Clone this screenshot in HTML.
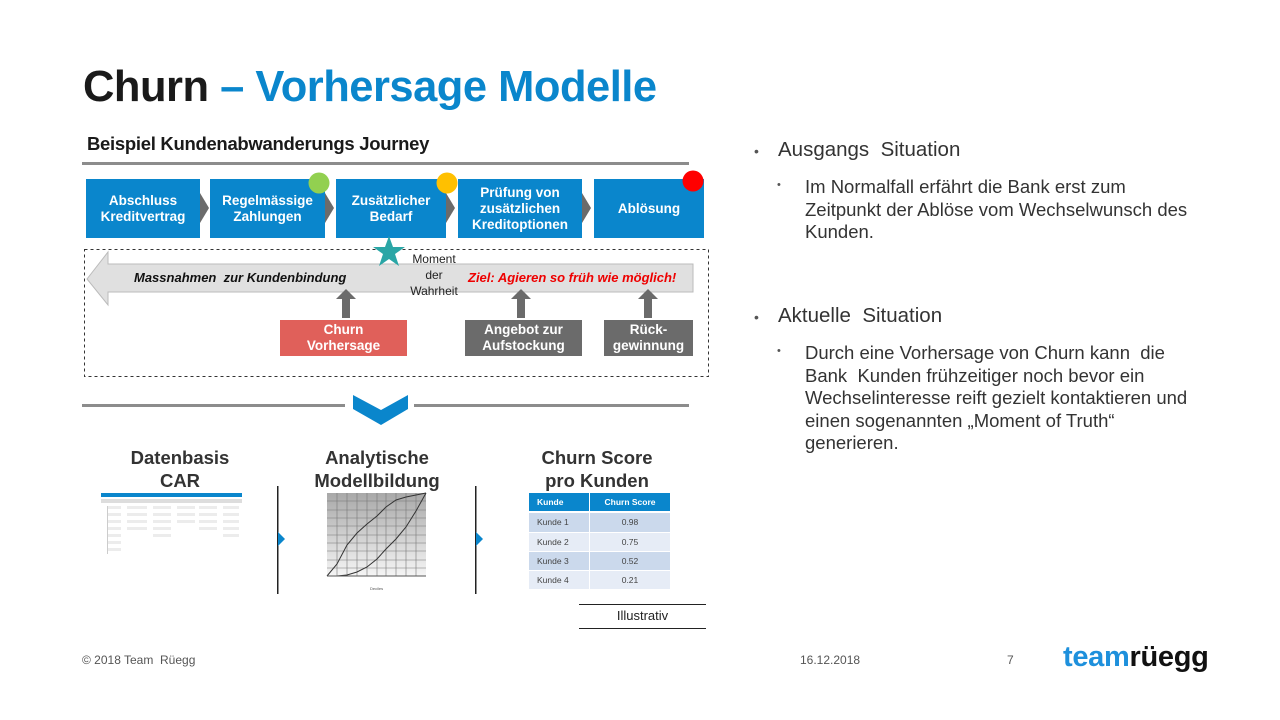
<!DOCTYPE html>
<html><head><meta charset="utf-8"><style>
*{margin:0;padding:0;box-sizing:border-box}
body{width:1280px;height:720px;background:#fff;position:relative;overflow:hidden;font-family:"Liberation Sans",sans-serif}
.a{position:absolute;white-space:nowrap}
.bx{position:absolute;background:#0a86cc;color:#fff;font-weight:bold;font-size:13.5px;line-height:16px;display:flex;align-items:center;justify-content:center;text-align:center}
.gb{position:absolute;color:#fff;font-weight:bold;font-size:13.5px;line-height:16px;display:flex;align-items:center;justify-content:center;text-align:center}
.rt{color:#333;font-size:18.5px;line-height:22.5px}
</style></head><body>
<div class="a" style="left:83px;top:63px;font-size:43.5px;font-weight:bold;color:#1a1a1a;letter-spacing:-0.5px">Churn <span style="color:#0a86cc">– Vorhersage Modelle</span></div>
<div class="a" style="left:87px;top:133px;font-size:18.5px;font-weight:bold;color:#1a1a1a;letter-spacing:-0.3px">Beispiel Kundenabwanderungs Journey</div>
<div class="a" style="left:82px;top:162px;width:607px;height:3px;background:#8c8c8c"></div>

<div class="bx" style="left:86px;top:179px;width:114px;height:59px">Abschluss<br>Kreditvertrag</div>
<div class="bx" style="left:210px;top:179px;width:115px;height:59px">Regelmässige<br>Zahlungen</div>
<div class="bx" style="left:336px;top:179px;width:110px;height:59px">Zusätzlicher<br>Bedarf</div>
<div class="bx" style="left:458px;top:179px;width:124px;height:59px">Prüfung von<br>zusätzlichen<br>Kreditoptionen</div>
<div class="bx" style="left:594px;top:179px;width:110px;height:59px">Ablösung</div>
<svg class="a" style="left:0;top:0" width="1280" height="720">
<g fill="#6b6b6b">
<polygon points="200,193 209,208 200,223"/>
<polygon points="325,193 334,208 325,223"/>
<polygon points="446,193 455,208 446,223"/>
<polygon points="582,193 591,208 582,223"/>
</g>
<circle cx="319" cy="183" r="10.5" fill="#92d050"/>
<circle cx="447" cy="183" r="10.5" fill="#ffc000"/>
<circle cx="693" cy="181" r="10.5" fill="#ff0000"/>
<rect x="84.5" y="249.5" width="624" height="127" fill="none" stroke="#333" stroke-dasharray="3,3"/>
<polygon points="87,279 108,252 108,264 693,264 693,292 108,292 108,305" fill="#e0e0e0" stroke="#bbb"/>
<polygon points="389,236 393,247 405,247 395,254 399,266 389,259 379,266 383,254 373,247 385,247" fill="#2aa6a6"/>
<g fill="#6b6b6b">
<polygon points="346,289 356,299 350,299 350,318 342,318 342,299 336,299"/>
<polygon points="521,289 531,299 525,299 525,318 517,318 517,299 511,299"/>
<polygon points="648,289 658,299 652,299 652,318 644,318 644,299 638,299"/>
</g>
<rect x="82" y="404" width="263" height="3" fill="#8c8c8c"/>
<rect x="414" y="404" width="275" height="3" fill="#8c8c8c"/>
<polygon points="353,395 381,410 408,395 408,409 381,425 353,409" fill="#0a86cc"/>
<rect x="277" y="486" width="1.5" height="108" fill="#222"/>
<rect x="475" y="486" width="1.5" height="108" fill="#222"/>
<polygon points="278,532 285,539 278,546" fill="#0a86cc"/>
<polygon points="476,532 483,539 476,546" fill="#0a86cc"/>
<defs><linearGradient id="g" x1="0" y1="0" x2="0" y2="1"><stop offset="0" stop-color="#a8a8a8"/><stop offset="1" stop-color="#f5f5f5"/></linearGradient></defs>
<rect x="327" y="493" width="99" height="83" fill="url(#g)"/>
<g stroke="#777" stroke-width="0.6">
<line x1="337" y1="493" x2="337" y2="576"/><line x1="347" y1="493" x2="347" y2="576"/><line x1="357" y1="493" x2="357" y2="576"/><line x1="367" y1="493" x2="367" y2="576"/><line x1="377" y1="493" x2="377" y2="576"/><line x1="386" y1="493" x2="386" y2="576"/><line x1="396" y1="493" x2="396" y2="576"/><line x1="406" y1="493" x2="406" y2="576"/><line x1="416" y1="493" x2="416" y2="576"/>
<line x1="327" y1="501" x2="426" y2="501"/><line x1="327" y1="510" x2="426" y2="510"/><line x1="327" y1="518" x2="426" y2="518"/><line x1="327" y1="526" x2="426" y2="526"/><line x1="327" y1="535" x2="426" y2="535"/><line x1="327" y1="543" x2="426" y2="543"/><line x1="327" y1="551" x2="426" y2="551"/><line x1="327" y1="560" x2="426" y2="560"/><line x1="327" y1="568" x2="426" y2="568"/>
</g>
<polyline points="327,576 337,564 347,545 357,533 367,524 377,516 386,507 396,500 406,497 416,495 426,493" fill="none" stroke="#333"/>
<polyline points="327,576 337,576 347,575 357,572 367,567 377,559 386,549 396,539 406,527 416,511 426,493" fill="none" stroke="#333"/>
<line x1="327" y1="576" x2="426" y2="576" stroke="#555"/>
<text x="370" y="590" font-size="4" fill="#555" font-family="Liberation Sans">Deciles</text>
<rect x="579" y="604" width="127" height="1" fill="#222"/>
<rect x="579" y="628" width="127" height="1" fill="#222"/>
</svg>

<div class="a" style="left:398px;top:251px;width:72px;text-align:center;font-size:12px;line-height:16px;color:#222">Moment<br>der<br>Wahrheit</div>
<div class="a" style="left:134px;top:270px;font-size:13px;font-weight:bold;font-style:italic;color:#111">Massnahmen&nbsp; zur Kundenbindung</div>
<div class="a" style="left:468px;top:270px;font-size:13px;font-weight:bold;font-style:italic;color:#e00">Ziel: Agieren so früh wie möglich!</div>
<div class="gb" style="left:280px;top:320px;width:127px;height:36px;background:#e0605a">Churn<br>Vorhersage</div>
<div class="gb" style="left:465px;top:320px;width:117px;height:36px;background:#6b6b6b">Angebot zur<br>Aufstockung</div>
<div class="gb" style="left:604px;top:320px;width:89px;height:36px;background:#6b6b6b">Rück-<br>gewinnung</div>

<div class="a" style="left:100px;top:446px;width:160px;text-align:center;font-size:18.5px;font-weight:bold;line-height:23px;color:#333">Datenbasis<br>CAR</div>
<div class="a" style="left:297px;top:446px;width:160px;text-align:center;font-size:18.5px;font-weight:bold;line-height:23px;color:#333">Analytische<br>Modellbildung</div>
<div class="a" style="left:517px;top:446px;width:160px;text-align:center;font-size:18.5px;font-weight:bold;line-height:23px;color:#333">Churn Score<br>pro Kunden</div>

<div class="a" style="left:101px;top:493px;width:141px;height:62px">
<div class="a" style="left:0;top:0;width:141px;height:4px;background:#0a86cc"></div>
<div class="a" style="left:0;top:6px;width:141px;height:4px;background:#ddd"></div>
<div class="a" style="left:6px;top:13px;width:14px;height:48px;border-left:1px solid #ccc;background:repeating-linear-gradient(#ececec 0 3px,#fff 3px 7px)"></div>
<div class="a" style="left:26px;top:13px;width:20px;height:28px;background:repeating-linear-gradient(#ececec 0 3px,#fff 3px 7px)"></div>
<div class="a" style="left:52px;top:13px;width:18px;height:32px;background:repeating-linear-gradient(#ececec 0 3px,#fff 3px 7px)"></div>
<div class="a" style="left:76px;top:13px;width:18px;height:20px;background:repeating-linear-gradient(#ececec 0 3px,#fff 3px 7px)"></div>
<div class="a" style="left:98px;top:13px;width:18px;height:24px;background:repeating-linear-gradient(#ececec 0 3px,#fff 3px 7px)"></div>
<div class="a" style="left:122px;top:13px;width:16px;height:32px;background:repeating-linear-gradient(#ececec 0 3px,#fff 3px 7px)"></div>
</div>

<div class="a" style="left:529px;top:493px;width:141px;font-size:8.5px;color:#444">
<div style="display:flex;height:18px;background:#0a86cc;color:#fff;font-weight:bold;line-height:18px"><div style="width:61px;padding-left:8px;border-right:1px solid #fff">Kunde</div><div style="flex:1;text-align:center">Churn Score</div></div>
<div style="display:flex;height:19px;margin-top:2px;background:#cbd9ec;line-height:19px"><div style="width:61px;padding-left:8px;border-right:1px solid #fff">Kunde 1</div><div style="flex:1;text-align:center">0.98</div></div>
<div style="display:flex;height:19px;background:#e6ecf6;line-height:19px;border-top:1px solid #fff"><div style="width:61px;padding-left:8px;border-right:1px solid #fff">Kunde 2</div><div style="flex:1;text-align:center">0.75</div></div>
<div style="display:flex;height:19px;background:#cbd9ec;line-height:19px;border-top:1px solid #fff"><div style="width:61px;padding-left:8px;border-right:1px solid #fff">Kunde 3</div><div style="flex:1;text-align:center">0.52</div></div>
<div style="display:flex;height:19px;background:#e6ecf6;line-height:19px;border-top:1px solid #fff"><div style="width:61px;padding-left:8px;border-right:1px solid #fff">Kunde 4</div><div style="flex:1;text-align:center">0.21</div></div>
</div>
<div class="a" style="left:579px;top:608px;width:127px;text-align:center;font-size:13px;color:#222">Illustrativ</div>

<div class="a" style="left:754px;top:143px;font-size:14px;color:#555">•</div>
<div class="a rt" style="left:778px;top:139px;font-size:20.5px">Ausgangs&nbsp; Situation</div>
<div class="a" style="left:777px;top:179px;font-size:11px;color:#555">•</div>
<div class="a rt" style="left:805px;top:176px">Im Normalfall erfährt die Bank erst zum<br>Zeitpunkt der Ablöse vom Wechselwunsch des<br>Kunden.</div>
<div class="a" style="left:754px;top:309px;font-size:14px;color:#555">•</div>
<div class="a rt" style="left:778px;top:305px;font-size:20.5px">Aktuelle&nbsp; Situation</div>
<div class="a" style="left:777px;top:345px;font-size:11px;color:#555">•</div>
<div class="a rt" style="left:805px;top:342px">Durch eine Vorhersage von Churn kann&nbsp; die<br>Bank&nbsp; Kunden frühzeitiger noch bevor ein<br>Wechselinteresse reift gezielt kontaktieren und<br>einen sogenannten „Moment of Truth“<br>generieren.</div>

<div class="a" style="left:82px;top:653px;font-size:12px;color:#555">© 2018 Team&nbsp; Rüegg</div>
<div class="a" style="left:800px;top:653px;font-size:12px;color:#555">16.12.2018</div>
<div class="a" style="left:1007px;top:653px;font-size:12px;color:#555">7</div>
<div class="a" style="left:1063px;top:641px;font-size:29px;font-weight:bold;letter-spacing:-0.3px"><span style="color:#1e90dc">team</span><span style="color:#111">rüegg</span></div>
</body></html>
